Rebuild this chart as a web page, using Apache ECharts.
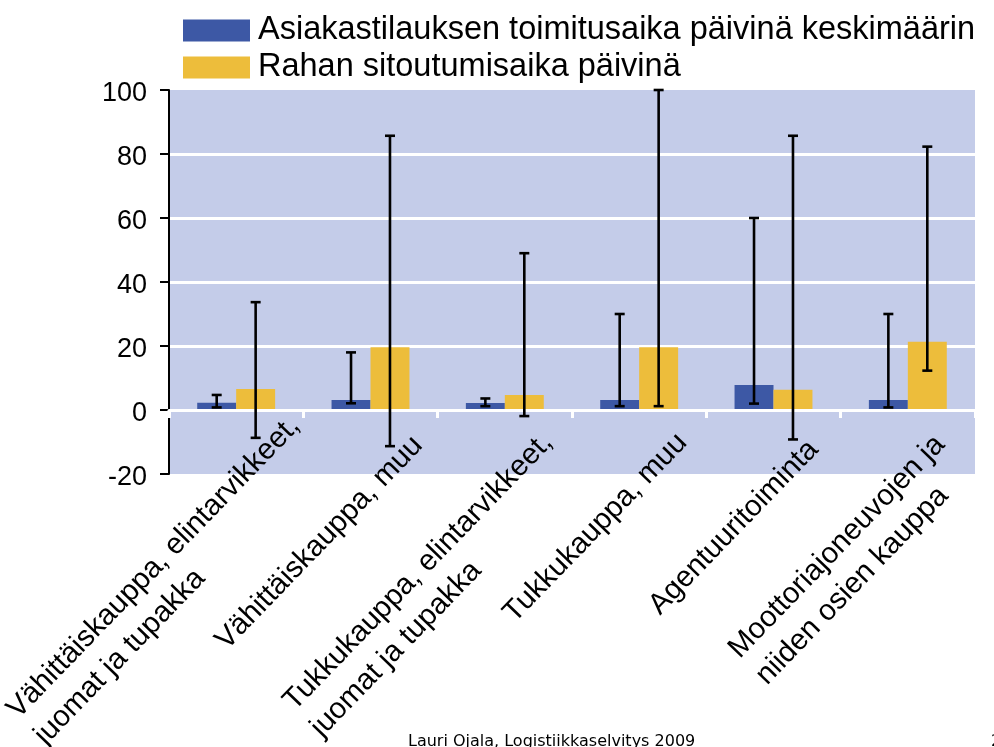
<!DOCTYPE html>
<html><head><meta charset="utf-8">
<script src="https://cdn.jsdelivr.net/npm/echarts@6/dist/echarts.min.js"></script>
<style>html,body{margin:0;padding:0;background:#fff}#c{width:994px;height:747px}</style>
</head><body><div id="c"></div>
<script>
// ---- data ----
const categories = [
  'Vähittäiskauppa, elintarvikkeet,\njuomat ja tupakka',
  'Vähittäiskauppa, muu',
  'Tukkukauppa, elintarvikkeet,\njuomat ja tupakka',
  'Tukkukauppa, muu',
  'Agentuuritoiminta',
  'Moottoriajoneuvojen ja\nniiden osien kauppa'
];
const seriesNames = ['Asiakastilauksen toimitusaika päivinä keskimäärin', 'Rahan sitoutumisaika päivinä'];
const deliveryDays  = [2.3, 3.1, 2.2, 3.1, 7.8, 3.1];
const deliveryLow   = [0.8, 2.1, 1.2, 1.2, 2.0, 0.8];
const deliveryHigh  = [4.7, 18.0, 3.6, 30.0, 60.0, 30.0];
const moneyDays     = [6.6, 19.6, 4.7, 19.6, 6.3, 21.3];
const moneyLow      = [-8.7, -11.3, -1.9, 1.2, -9.2, 12.3];
const moneyHigh     = [33.7, 85.7, 49.0, 100.0, 85.7, 82.3];
const yMin = -20, yMax = 100, yStep = 20;
const footerText = 'Lauri Ojala, Logistiikkaselvitys 2009';
const pageNumber = '2';

// ---- styling ----
const BLUE = '#3D58A5', YELLOW = '#EDBD3B', PLOT_BG = '#C4CCE9';
const FONT = 'Liberation Sans, Arial, sans-serif';
const BAR_FRAC = 0.29;
// per-label nudges (padding top / right) to place rotated labels like the original
const labelNudge = [
  {t: 217, r: 4}, {t: 190, r: 26}, {t: 217, r: 27},
  {t: 180, r: 27}, {t: 185, r: 34}, {t: 205, r: 36}
];
const LABEL_FS = 29.5, LINE_EXTRA = 8;

const rich = {};
labelNudge.forEach((n, i) => {
  rich['f' + i] = {align: 'left', fontSize: LABEL_FS, fontFamily: FONT, color: '#000', padding: [n.t, n.r, LINE_EXTRA, 0]};
  rich['r' + i] = {align: 'left', fontSize: LABEL_FS, fontFamily: FONT, color: '#000', padding: [0, n.r, LINE_EXTRA, 0]};
});

function errSeries(lows, highs, sign) {
  return {
    type: 'custom', z: 10, silent: true, xAxisIndex: 0,
    encode: {x: 0, y: [1, 2]},
    data: lows.map((l, i) => [i, l, highs[i]]),
    renderItem: function (params, api) {
      const i = api.value(0);
      const lo = api.coord([i, api.value(1)]);
      const hi = api.coord([i, api.value(2)]);
      const band = api.size([1, 0])[0];
      const x = lo[0] + sign * band * BAR_FRAC / 2;
      const cap = 5;
      const st = {stroke: '#000', lineWidth: 2.6};
      return {type: 'group', children: [
        {type: 'line', shape: {x1: x, y1: lo[1], x2: x, y2: hi[1]}, style: st},
        {type: 'line', shape: {x1: x - cap, y1: lo[1], x2: x + cap, y2: lo[1]}, style: st},
        {type: 'line', shape: {x1: x - cap, y1: hi[1], x2: x + cap, y2: hi[1]}, style: st}
      ]};
    }
  };
}

const chart = echarts.init(document.getElementById('c'), null, {renderer: 'canvas'});
chart.setOption({
  animation: false,
  backgroundColor: '#fff',
  legend: {
    left: 183, top: 14, orient: 'vertical', padding: 0,
    itemWidth: 67, itemHeight: 22, itemGap: 4, icon: 'rect',
    textStyle: {fontSize: 32.5, color: '#000', fontFamily: FONT, padding: [0, 0, 0, 3]},
    data: seriesNames
  },
  grid: {
    left: 169, right: 19, top: 90, bottom: 273,
    show: true, backgroundColor: PLOT_BG, borderWidth: 0,
    outerBoundsMode: 'none', containLabel: false
  },
  xAxis: [{
    type: 'category', data: categories, z: 3,
    axisLine: {show: true, onZero: true, lineStyle: {color: '#fff', width: 3}},
    axisTick: {show: true, interval: 0, length: 8, lineStyle: {color: '#fff', width: 3}},
    splitLine: {show: false},
    axisLabel: {show: false, interval: 0}
  }, {
    type: 'category', data: categories, position: 'bottom', offset: -115, z: 3,
    axisLine: {show: false, onZero: false},
    axisTick: {show: false},
    splitLine: {show: false},
    axisLabel: {
      interval: 0, rotate: 46, margin: 0, color: '#000',
      fontSize: LABEL_FS, fontFamily: FONT,
      formatter: function (value, index) {
        return value.split('\n').map((ln, k) => '{' + (k === 0 ? 'f' : 'r') + index + '|' + ln + '}').join('\n');
      },
      rich: rich
    }
  }],
  yAxis: {
    type: 'value', min: yMin, max: yMax, interval: yStep,
    axisLine: {show: true, lineStyle: {color: '#000', width: 2}},
    axisTick: {show: true, length: 9, lineStyle: {color: '#000', width: 2}},
    axisLabel: {
      color: '#000', margin: 22,
      formatter: v => '{v|' + v + '}',
      rich: {v: {fontSize: 27, color: '#000', fontFamily: FONT, padding: [8, 0, 0, 0]}}
    },
    splitLine: {show: true, showMinLine: false, showMaxLine: false, lineStyle: {color: '#fff', width: 3}}
  },
  series: [
    {name: seriesNames[0], type: 'bar', xAxisIndex: 0, data: deliveryDays, barWidth: (BAR_FRAC * 100) + '%', barGap: '0%', itemStyle: {color: BLUE}, z: 2},
    {name: seriesNames[1], type: 'bar', xAxisIndex: 0, data: moneyDays, barWidth: (BAR_FRAC * 100) + '%', barGap: '0%', itemStyle: {color: YELLOW}, z: 2},
    errSeries(deliveryLow, deliveryHigh, -1),
    errSeries(moneyLow, moneyHigh, 1)
  ],
  graphic: [
    {type: 'text', left: 408, top: 734, style: {text: footerText, fontSize: 16, fontFamily: 'DejaVu Sans', fill: '#000'}},
    {type: 'text', left: 991, top: 734, style: {text: pageNumber, fontSize: 16, fontFamily: 'DejaVu Sans', fill: '#000'}}
  ]
});
</script></body></html>
